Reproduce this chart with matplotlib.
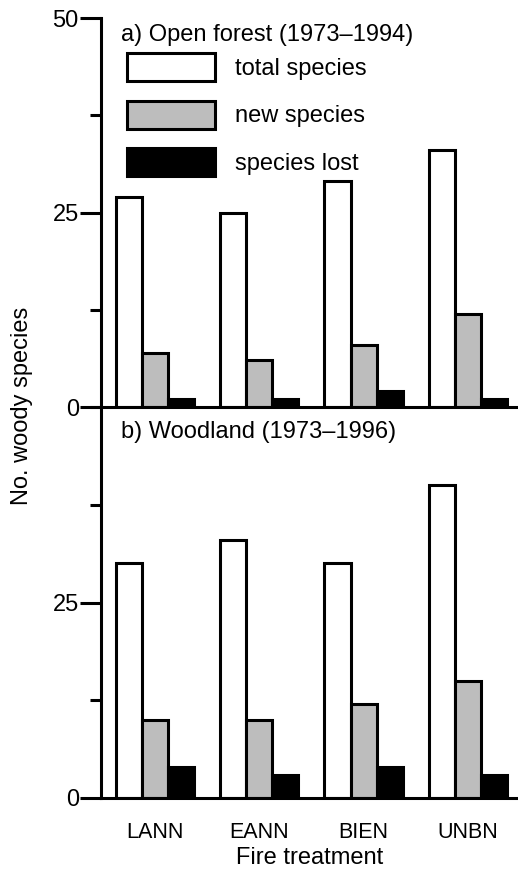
import numpy as np
import matplotlib
matplotlib.use('Agg')
import matplotlib.pyplot as plt

plt.rcParams['font.family'] = ['Liberation Sans', 'DejaVu Sans']

# 数据
treatments = ['LANN', 'EANN', 'BIEN', 'UNBN']
series = ['total species', 'new species', 'species lost']

open_total = [27, 25, 29, 33]
open_new = [7, 6, 8, 12]
open_lost = [1, 1, 2, 1]

wood_total = [30, 33, 30, 40]
wood_new = [10, 10, 12, 15]
wood_lost = [4, 3, 4, 3]

panel_titles = ['a) Open forest (1973\u20131994)', 'b) Woodland (1973\u20131996)']

colors = ['white', '#bdbdbd', 'black']
lw = 2.2
fs = 17

fig = plt.figure(figsize=(5.18, 8.76), dpi=100)
ax_top = fig.add_axes([101 / 518, 1 - 407 / 876, 1 - 101 / 518, (407 - 18) / 876])
ax_bot = fig.add_axes([101 / 518, 1 - 798 / 876, 1 - 101 / 518, (798 - 407) / 876])

x = np.arange(len(treatments))
width = 0.25
offsets = [-width, 0, width]

data = [[open_total, open_new, open_lost], [wood_total, wood_new, wood_lost]]
title_y = [0.956, 0.936]

for k, (ax, vals) in enumerate(zip([ax_top, ax_bot], data)):
    for i, v in enumerate(vals):
        ax.bar(x + offsets[i], v, width, color=colors[i], edgecolor='black',
               linewidth=lw, label=series[i])
    ax.set_xlim(-0.517, 3.48)
    ax.set_ylim(0, 50)
    ax.spines['top'].set_visible(False)
    ax.spines['right'].set_visible(False)
    ax.spines['left'].set_linewidth(lw)
    ax.spines['bottom'].set_linewidth(lw)
    ax.set_yticks([0, 25, 50] if k == 0 else [0, 25])
    ax.set_yticks([12.5, 37.5], minor=True)
    if k == 1:
        ax.set_yticks([12.5, 37.5, 50], minor=True)
    ax.tick_params(axis='y', which='major', length=15, width=lw, labelsize=fs, pad=1)
    ax.tick_params(axis='y', which='minor', length=8, width=lw)
    ax.text(0.048, title_y[k], panel_titles[k], transform=ax.transAxes,
            fontsize=fs, ha='left', va='center')
    ax.patch.set_alpha(0)

ax_top.set_xticks([])
ax_bot.set_xticks(x)
ax_bot.set_xticklabels(treatments)
ax_bot.tick_params(axis='x', length=0, labelsize=15.5, pad=17)
ax_bot.set_xlabel('Fire treatment', fontsize=fs, labelpad=3)

ax_top.legend(loc='upper left', bbox_to_anchor=(0.062, 0.91), frameon=False,
              fontsize=fs, handlelength=3.73, handleheight=1.45,
              handletextpad=0.85, labelspacing=0.83, borderpad=0, borderaxespad=0)

fig.text(22 / 518, 1 - 406 / 876, 'No. woody species', rotation=90,
         fontsize=fs, ha='center', va='center')

fig.savefig('out.png', dpi=100)
